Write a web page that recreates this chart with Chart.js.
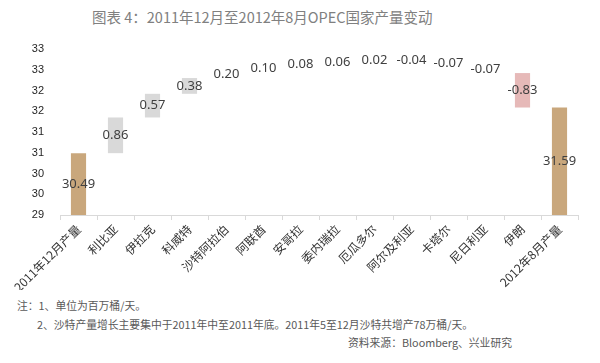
<!DOCTYPE html>
<html>
<head>
<meta charset="utf-8">
<script src="https://cdn.jsdelivr.net/npm/chart.js@4"></script>
<style>
  body { margin: 0; background: #fff; width: 600px; height: 363px; overflow: hidden; position: relative; font-family: "Noto Sans CJK SC", "Noto Sans", sans-serif; }
  #wrap { position: absolute; left: 0; top: 0; width: 600px; height: 290px; }
  .txt { position: absolute; white-space: nowrap; color: #595959; }
  #title { left: 92px; top: 6px; font-size: 14.5px; color: #808080; }
  #n1 { left: 17px; top: 297px; font-size: 10.8px; }
  #n2 { left: 37px; top: 316px; font-size: 10.8px; }
  #src { right: 88px; top: 334px; font-size: 10.8px; }
</style>
</head>
<body>
<div class="txt" id="title">图表 4：2011年12月至2012年8月OPEC国家产量变动</div>
<div id="wrap"><canvas id="myChart"></canvas></div>
<div class="txt" id="n1">注：1、单位为百万桶/天。</div>
<div class="txt" id="n2">2、沙特产量增长主要集中于2011年中至2011年底。2011年5至12月沙特共增产78万桶/天。</div>
<div class="txt" id="src">资料来源：Bloomberg、兴业研究</div>
<script>
// categories
const labels = ['2011年12月产量', '利比亚', '伊拉克', '科威特', '沙特阿拉伯', '阿联酋', '安哥拉',
    '委内瑞拉', '厄瓜多尔', '阿尔及利亚', '卡塔尔', '尼日利亚', '伊朗', '2012年8月产量'];
// change per country (null for the two totals)
const changes = [null, 0.86, 0.57, 0.38, 0.20, 0.10, 0.08, 0.06, 0.02, -0.04, -0.07, -0.07, -0.83, null];
// level each floating bar starts from
const starts = [null, 30.49, 31.35, 31.92, 32.30, 32.48, 32.60, 32.66, 32.71, 32.74, 32.68, 32.55, 32.42, null];
// totals
const totals = [30.49, null, null, null, null, null, null, null, null, null, null, null, null, 31.59];
// y tick labels as printed (0.5 steps shown rounded)
const yTickLabels = ['29', '30', '30', '31', '31', '32', '32', '33', '33'];

const yMin = 29, yMax = 33;

let bars = [];
let colors = [];
let texts = [];
for (let i = 0; i < labels.length; i++) {
    if (totals[i] !== null) {
        bars.push([yMin, totals[i]]);
        colors.push('#c9a77c');
        texts.push(totals[i].toFixed(2));
    } else {
        bars.push([starts[i], starts[i] + changes[i]]);
        colors.push(changes[i] < 0 ? '#e6b9b8' : '#d9d9d9');
        texts.push(changes[i].toFixed(2));
    }
}

const valueLabels = {
    id: 'valueLabels',
    afterDatasetsDraw(chart) {
        const c = chart.ctx;
        const area = chart.chartArea;
        const meta = chart.getDatasetMeta(0);
        c.save();
        c.font = '13px "Noto Sans", "DejaVu Sans", sans-serif';
        c.textAlign = 'center';
        c.textBaseline = 'middle';
        meta.data.forEach((el, i) => {
            const top = Math.max(Math.min(el.y, el.base), area.top);
            const bot = Math.min(Math.max(el.y, el.base), area.bottom);
            const y = (top + bot) / 2;
            if (changes[i] !== null && Math.abs(changes[i]) < 0.3) {
                const w = c.measureText(texts[i]).width;
                c.fillStyle = '#fff';
                c.fillRect(el.x - w / 2 - 1, y - 8, w + 2, 16);
            }
            c.fillStyle = '#404040';
            c.fillText(texts[i], el.x, y);
        });
        c.restore();
    }
};

const ctx = document.getElementById('myChart');
new Chart(ctx, {
    type: 'bar',
    data: {
        labels: labels,
        datasets: [{
            data: bars,
            backgroundColor: colors,
            borderWidth: 0,
            categoryPercentage: 1,
            barPercentage: 0.41
        }]
    },
    options: {
        responsive: true,
        maintainAspectRatio: false,
        animation: false,
        layout: { padding: { top: 49, right: 22, left: 0, bottom: 0 } },
        plugins: {
            legend: { display: false },
            tooltip: { enabled: false }
        },
        scales: {
            y: {
                min: yMin,
                max: yMax,
                ticks: {
                    stepSize: 0.5,
                    color: '#262626',
                    font: { size: 11, family: '"Liberation Sans", Arial, sans-serif' },
                    padding: 8,
                    callback: (v, i) => yTickLabels[i]
                },
                grid: { display: false },
                border: { display: false },
                afterFit(scale) { scale.width = 60; }
            },
            x: {
                ticks: {
                    minRotation: 45,
                    maxRotation: 45,
                    autoSkip: false,
                    color: '#333',
                    padding: 2,
                    font: { size: 12, family: '"Noto Sans CJK SC", sans-serif' }
                },
                grid: { drawOnChartArea: false, drawTicks: true, tickLength: 5, color: '#d9d9d9', offset: true },
                border: { color: '#d9d9d9' },
                afterFit(scale) { scale.height = 75; }
            }
        }
    },
    plugins: [valueLabels]
});
</script>
</body>
</html>
